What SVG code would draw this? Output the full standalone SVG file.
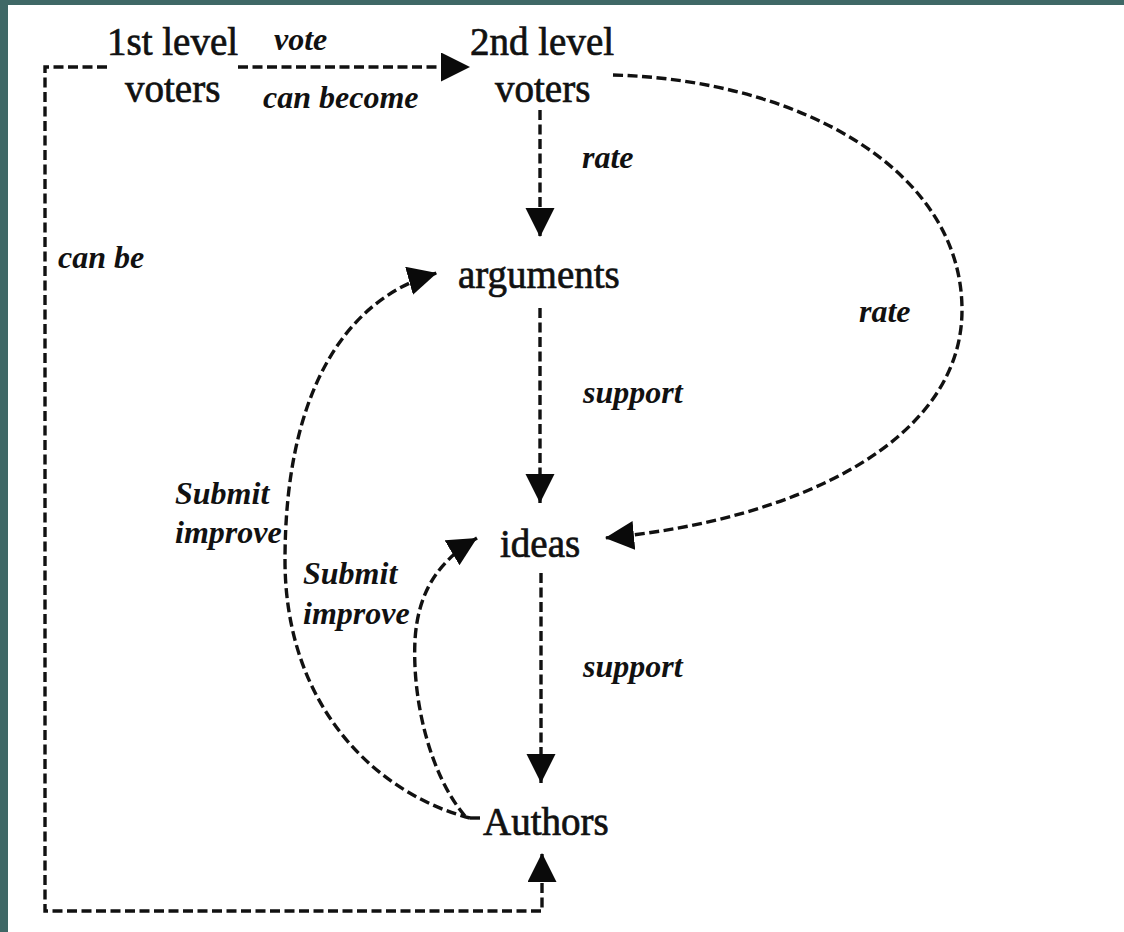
<svg xmlns="http://www.w3.org/2000/svg" width="1124" height="932" viewBox="0 0 1124 932">
  <style>
    .node { font-family: "Liberation Serif", "Times New Roman", serif; font-size: 39px; fill: #111; stroke: #111; stroke-width: 0.7; }
    .lbl { font-family: "Liberation Serif", "Times New Roman", serif; font-size: 32px; font-style: italic; font-weight: bold; fill: #111; }
    .edge { fill: none; stroke: #111; stroke-width: 3.4; stroke-dasharray: 10 4.5; }
  </style>
  <defs>
    <marker id="ah" markerUnits="userSpaceOnUse" markerWidth="32" markerHeight="32" refX="29" refY="14.5" orient="auto">
      <path d="M0,0 L29,14.5 L0,29 Z" fill="#0a0a0a"/>
    </marker>
  </defs>

  <!-- page and frame -->
  <rect x="0" y="0" width="1124" height="932" fill="#ffffff"/>
  <rect x="0" y="0" width="1124" height="5" fill="#3f6866"/>
  <rect x="0" y="0" width="8" height="932" fill="#3f6866"/>

  <!-- connectors -->
  <g id="connectors">
    <path class="edge" d="M238,67 H470" marker-end="url(#ah)"/>
    <path class="edge" d="M107,67 H45 V911 H542 V853" marker-end="url(#ah)"/>
    <path class="edge" d="M540,110 V237" marker-end="url(#ah)"/>
    <path class="edge" d="M613,75 C800,80 962,170 962,310 C962,440 800,520 605,538" marker-end="url(#ah)"/>
    <path class="edge" d="M540,308 V503" marker-end="url(#ah)"/>
    <path class="edge" d="M541,573 V783" marker-end="url(#ah)"/>
    <path class="edge" d="M470,818 C380,795 285,710 285,560 C285,400 340,300 437,273" marker-end="url(#ah)"/>
    <path class="edge" d="M465,816 C430,775 412,700 415,640 C418,590 440,560 477,538" marker-end="url(#ah)"/>
    <path class="edge" d="M470,818 H483"/>
  </g>

  <!-- edge labels -->
  <g id="labels">
    <text class="lbl" x="274" y="50">vote</text>
    <text class="lbl" x="263" y="108">can become</text>
    <text class="lbl" x="58" y="268">can be</text>
    <text class="lbl" x="582" y="168">rate</text>
    <text class="lbl" x="859" y="322">rate</text>
    <text class="lbl" x="583" y="403">support</text>
    <text class="lbl" x="583" y="677">support</text>
    <text class="lbl" x="175" y="504">Submit</text>
    <text class="lbl" x="175" y="543">improve</text>
    <text class="lbl" x="303" y="584">Submit</text>
    <text class="lbl" x="303" y="624">improve</text>
  </g>

  <!-- nodes -->
  <g id="voters1">
    <text class="node" x="107" y="55">1st level</text>
    <text class="node" x="125" y="102">voters</text>
  </g>
  <g id="voters2">
    <text class="node" x="470" y="55">2nd level</text>
    <text class="node" x="495" y="102">voters</text>
  </g>
  <g id="arguments">
    <text class="node" x="458" y="288">arguments</text>
  </g>
  <g id="ideas">
    <text class="node" x="500" y="557">ideas</text>
  </g>
  <g id="authors">
    <text class="node" x="483" y="835">Authors</text>
  </g>
</svg>
